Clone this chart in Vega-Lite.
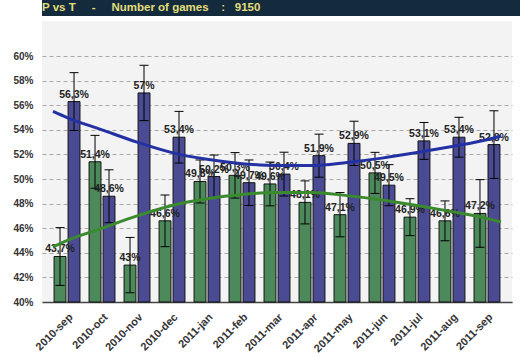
{
  "$schema": "https://vega.github.io/schema/vega-lite/v6.json",
  "padding": 0,
  "background": "white",
  "spacing": 5,
  "config": {
    "locale": {"number": {"decimal": ",", "thousands": ".", "grouping": [3], "currency": ["", " €"]}},
    "view": {"stroke": null},
    "font": "Liberation Sans",
    "axisY": {
      "title": null, "format": ".0%", "grid": true, "gridDash": [4, 3], "gridColor": "#a8a8a8",
      "ticks": false, "domain": false, "labelFont": "Liberation Sans",
      "labelFontWeight": "bold", "labelFontSize": 10, "labelColor": "#333",
      "labelPadding": 9, "minExtent": 42, "labelOverlap": false
    }
  },
  "datasets": {
    "bars": [
      {"m": "2010-sep", "s": "P", "v": 0.437, "lo": 0.4135, "hi": 0.4605},
      {"m": "2010-sep", "s": "T", "v": 0.563, "lo": 0.5395, "hi": 0.5865},
      {"m": "2010-oct", "s": "P", "v": 0.514, "lo": 0.4925, "hi": 0.5355},
      {"m": "2010-oct", "s": "T", "v": 0.486, "lo": 0.4645, "hi": 0.5075},
      {"m": "2010-nov", "s": "P", "v": 0.43, "lo": 0.4075, "hi": 0.4525},
      {"m": "2010-nov", "s": "T", "v": 0.57, "lo": 0.5475, "hi": 0.5925},
      {"m": "2010-dec", "s": "P", "v": 0.466, "lo": 0.445, "hi": 0.487},
      {"m": "2010-dec", "s": "T", "v": 0.534, "lo": 0.513, "hi": 0.555},
      {"m": "2011-jan", "s": "P", "v": 0.498, "lo": 0.4805, "hi": 0.5155},
      {"m": "2011-jan", "s": "T", "v": 0.502, "lo": 0.4845, "hi": 0.5195},
      {"m": "2011-feb", "s": "P", "v": 0.503, "lo": 0.4845, "hi": 0.5215},
      {"m": "2011-feb", "s": "T", "v": 0.497, "lo": 0.4785, "hi": 0.5155},
      {"m": "2011-mar", "s": "P", "v": 0.496, "lo": 0.4782, "hi": 0.5138},
      {"m": "2011-mar", "s": "T", "v": 0.504, "lo": 0.4862, "hi": 0.5218},
      {"m": "2011-apr", "s": "P", "v": 0.481, "lo": 0.4635, "hi": 0.4985},
      {"m": "2011-apr", "s": "T", "v": 0.519, "lo": 0.5015, "hi": 0.5365},
      {"m": "2011-may", "s": "P", "v": 0.471, "lo": 0.453, "hi": 0.489},
      {"m": "2011-may", "s": "T", "v": 0.529, "lo": 0.511, "hi": 0.547},
      {"m": "2011-jun", "s": "P", "v": 0.505, "lo": 0.4883, "hi": 0.5217},
      {"m": "2011-jun", "s": "T", "v": 0.495, "lo": 0.4783, "hi": 0.5117},
      {"m": "2011-jul", "s": "P", "v": 0.469, "lo": 0.454, "hi": 0.484},
      {"m": "2011-jul", "s": "T", "v": 0.531, "lo": 0.516, "hi": 0.546},
      {"m": "2011-aug", "s": "P", "v": 0.466, "lo": 0.4498, "hi": 0.4822},
      {"m": "2011-aug", "s": "T", "v": 0.534, "lo": 0.5178, "hi": 0.5502},
      {"m": "2011-sep", "s": "P", "v": 0.472, "lo": 0.4445, "hi": 0.4995},
      {"m": "2011-sep", "s": "T", "v": 0.528, "lo": 0.5005, "hi": 0.5555}
    ],
    "trend": [
      {"i": -0.4, "s": "T", "v": 0.555}, {"i": 0, "s": "T", "v": 0.550}, {"i": 1, "s": "T", "v": 0.540},
      {"i": 2, "s": "T", "v": 0.530}, {"i": 3, "s": "T", "v": 0.5215}, {"i": 4, "s": "T", "v": 0.516},
      {"i": 5, "s": "T", "v": 0.5125}, {"i": 6, "s": "T", "v": 0.511}, {"i": 7, "s": "T", "v": 0.511},
      {"i": 8, "s": "T", "v": 0.5135}, {"i": 9, "s": "T", "v": 0.517}, {"i": 10, "s": "T", "v": 0.5215},
      {"i": 11, "s": "T", "v": 0.5265}, {"i": 12, "s": "T", "v": 0.532}, {"i": 12.4, "s": "T", "v": 0.535},
      {"i": -0.4, "s": "P", "v": 0.445}, {"i": 0, "s": "P", "v": 0.450}, {"i": 1, "s": "P", "v": 0.460},
      {"i": 2, "s": "P", "v": 0.470}, {"i": 3, "s": "P", "v": 0.4785}, {"i": 4, "s": "P", "v": 0.484},
      {"i": 5, "s": "P", "v": 0.4875}, {"i": 6, "s": "P", "v": 0.489}, {"i": 7, "s": "P", "v": 0.489},
      {"i": 8, "s": "P", "v": 0.4865}, {"i": 9, "s": "P", "v": 0.483}, {"i": 10, "s": "P", "v": 0.4785},
      {"i": 11, "s": "P", "v": 0.4735}, {"i": 12, "s": "P", "v": 0.468}, {"i": 12.4, "s": "P", "v": 0.465}
    ]
  },
  "vconcat": [
    {
      "width": 520,
      "height": 16,
      "view": {"fill": "#142b3d", "stroke": null},
      "data": {"values": [{"t": "P vs T\u00a0\u00a0\u00a0\u00a0\u00a0-\u00a0\u00a0\u00a0\u00a0\u00a0Number of games\u00a0\u00a0\u00a0\u00a0:\u00a0\u00a0\u00a09150"}]},
      "mark": {
        "type": "text", "align": "left", "baseline": "alphabetic",
        "font": "Liberation Sans", "fontSize": 11.5, "fontWeight": "bold", "color": "#e2de7a"
      },
      "encoding": {
        "text": {"field": "t"},
        "x": {"value": 0},
        "y": {"value": 11}
      }
    },
    {
      "width": 470,
      "height": 281,
      "view": {"fill": "#f3f3f3", "stroke": null},
      "resolve": {"scale": {"x": "independent"}},
      "layer": [
        {
          "data": {"name": "bars"},
          "encoding": {
            "x": {
              "field": "m", "type": "ordinal", "sort": null,
              "scale": {"paddingInner": 0.26, "paddingOuter": 0.345},
              "axis": {
                "title": null, "labelAngle": -45, "labelAlign": "right", "labelBaseline": "top",
                "labelFont": "Liberation Sans", "labelFontWeight": "bold", "labelFontSize": 11,
                "labelColor": "#333", "ticks": false, "domain": true, "domainColor": "#444",
                "domainWidth": 1.5, "labelPadding": 9, "grid": false, "labelOverlap": false
              }
            },
            "xOffset": {"field": "s", "scale": {"paddingInner": 0.15, "paddingOuter": 0}},
            "y": {"field": "v", "type": "quantitative", "scale": {"domain": [0.4, 0.6285], "nice": false, "zero": false},
                  "axis": {"values": [0.4, 0.42, 0.44, 0.46, 0.48, 0.5, 0.52, 0.54, 0.56, 0.58, 0.6]}}
          },
          "layer": [
            {
              "mark": {"type": "bar", "stroke": "#111", "strokeWidth": 1},
              "encoding": {
                "y2": {"datum": 0.4},
                "fill": {"field": "s", "type": "nominal", "scale": {"domain": ["P", "T"], "range": ["#4c8a5c", "#4b4b94"]}, "legend": null}
              }
            },
            {
              "mark": {"type": "rule", "color": "#000", "strokeWidth": 1},
              "encoding": {
                "y": {"field": "lo", "type": "quantitative", "scale": {"domain": [0.4, 0.6285], "nice": false, "zero": false},
                      "axis": {"values": [0.4, 0.42, 0.44, 0.46, 0.48, 0.5, 0.52, 0.54, 0.56, 0.58, 0.6]}},
                "y2": {"field": "hi"}
              }
            },
            {
              "mark": {"type": "tick", "orient": "horizontal", "size": 9, "thickness": 1, "color": "#000", "opacity": 1},
              "encoding": {
                "y": {"field": "lo", "type": "quantitative", "scale": {"domain": [0.4, 0.6285], "nice": false, "zero": false},
                      "axis": {"values": [0.4, 0.42, 0.44, 0.46, 0.48, 0.5, 0.52, 0.54, 0.56, 0.58, 0.6]}}
              }
            },
            {
              "mark": {"type": "tick", "orient": "horizontal", "size": 9, "thickness": 1, "color": "#000", "opacity": 1},
              "encoding": {
                "y": {"field": "hi", "type": "quantitative", "scale": {"domain": [0.4, 0.6285], "nice": false, "zero": false},
                      "axis": {"values": [0.4, 0.42, 0.44, 0.46, 0.48, 0.5, 0.52, 0.54, 0.56, 0.58, 0.6]}}
              }
            },
            {
              "mark": {"type": "text", "dy": -4, "baseline": "alphabetic", "font": "Liberation Sans", "fontWeight": "bold", "fontSize": 10.5, "color": "#222"},
              "encoding": {
                "text": {"field": "v", "type": "quantitative", "format": ".1~%"}
              }
            }
          ]
        },
        {
          "data": {"name": "trend"},
          "mark": {"type": "line", "strokeWidth": 3, "interpolate": "monotone"},
          "encoding": {
            "x": {"field": "i", "type": "quantitative", "scale": {"domain": [-0.7143, 12.7143], "nice": false, "zero": false}, "axis": null},
            "y": {"field": "v", "type": "quantitative", "scale": {"domain": [0.4, 0.6285], "nice": false, "zero": false},
                  "axis": {"values": [0.4, 0.42, 0.44, 0.46, 0.48, 0.5, 0.52, 0.54, 0.56, 0.58, 0.6]}},
            "stroke": {"field": "s", "type": "nominal", "scale": {"domain": ["P", "T"], "range": ["#3a8a2e", "#2331a3"]}, "legend": null},
            "detail": {"field": "s"}
          }
        }
      ]
    }
  ]
}
